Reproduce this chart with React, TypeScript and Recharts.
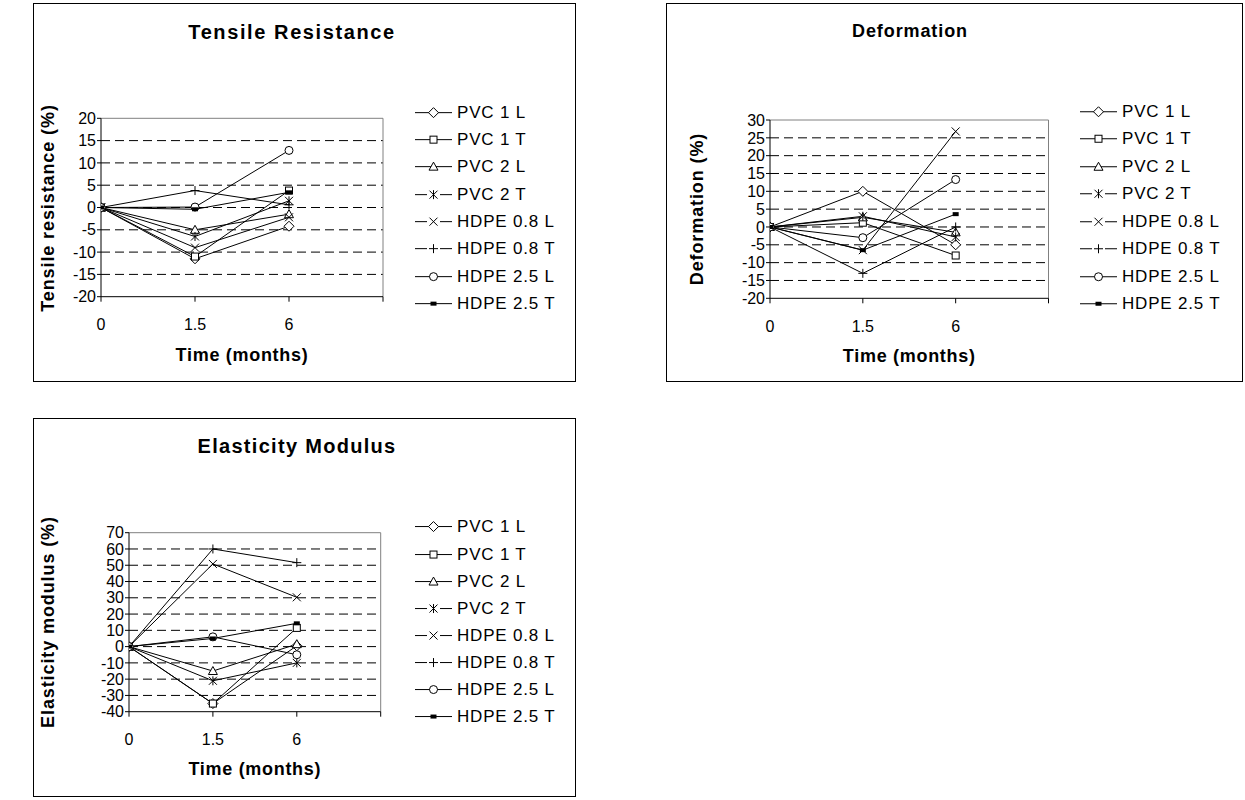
import React from 'react';
import { LineChart, Line, XAxis, YAxis, CartesianGrid, ReferenceLine, Legend } from 'recharts';

const FONT = '"Liberation Sans", Arial, Helvetica, sans-serif';

// Categories (x axis) – the 4th slot is an empty category
const months = ['0', '1.5', '6'];
const xSlots = [0, 1, 2, 3];

// Series names and their marker shapes
const seriesNames = ['PVC 1 L', 'PVC 1 T', 'PVC 2 L', 'PVC 2 T', 'HDPE 0.8 L', 'HDPE 0.8 T', 'HDPE 2.5 L', 'HDPE 2.5 T'];
const markerShapes = ['diamond', 'square', 'triangle', 'star', 'cross', 'plus', 'circle', 'bar'];

// Tensile resistance (%) at 0, 1.5, 6 months, one row per series
const tensileValues = [
  [0, -11.5, -4.2],
  [0, -11, 3.8],
  [0, -5, -1.5],
  [0, -6.5, 1.5],
  [0, -9, -2.2],
  [0, 3.8, 0.6],
  [0, 0.1, 12.8],
  [0, -0.4, 3.4],
];
const tensileTicks = [-20, -15, -10, -5, 0, 5, 10, 15, 20];

// Deformation (%)
const deformationValues = [
  [0, 10, -5],
  [0, 1.2, -8],
  [0, 2.7, -1.5],
  [0, 3, -2.8],
  [0, -6.5, 26.8],
  [0, -13, 0],
  [0, -3, 13.3],
  [0, -6.5, 3.6],
];
const deformationTicks = [-20, -15, -10, -5, 0, 5, 10, 15, 20, 25, 30];

// Elasticity modulus (%)
const elasticityValues = [
  [0, -35, 0.5],
  [0, -35, 11.5],
  [0, -15, 1.5],
  [0, -21, -10],
  [0, 50.8, 30.3],
  [0, 60, 51.6],
  [0, 6, -5],
  [0, 5, 14.3],
];
const elasticityTicks = [-40, -30, -20, -10, 0, 10, 20, 30, 40, 50, 60, 70];

function buildRows(values: number[][]) {
  return months.map((_, i) => {
    const row: Record<string, number> = { x: i };
    seriesNames.forEach((n, s) => {
      row[n] = values[s][i];
    });
    return row;
  });
}

function Marker({ shape, cx, cy }: { shape: string; cx: number; cy: number }) {
  const st = { stroke: '#000', strokeWidth: 1 };
  switch (shape) {
    case 'diamond':
      return <polygon points={`${cx},${cy - 5} ${cx + 5},${cy} ${cx},${cy + 5} ${cx - 5},${cy}`} fill="#fff" {...st} />;
    case 'square':
      return <rect x={cx - 3.5} y={cy - 3.5} width={7} height={7} fill="#fff" {...st} />;
    case 'triangle':
      return <polygon points={`${cx},${cy - 4.5} ${cx + 4.5},${cy + 3.5} ${cx - 4.5},${cy + 3.5}`} fill="#fff" {...st} />;
    case 'star':
      return (
        <g {...st}>
          <line x1={cx - 4} y1={cy - 4} x2={cx + 4} y2={cy + 4} />
          <line x1={cx - 4} y1={cy + 4} x2={cx + 4} y2={cy - 4} />
          <line x1={cx} y1={cy - 4.5} x2={cx} y2={cy + 4.5} />
        </g>
      );
    case 'cross':
      return (
        <g {...st}>
          <line x1={cx - 4} y1={cy - 4} x2={cx + 4} y2={cy + 4} />
          <line x1={cx - 4} y1={cy + 4} x2={cx + 4} y2={cy - 4} />
        </g>
      );
    case 'plus':
      return (
        <g {...st}>
          <line x1={cx - 4.5} y1={cy} x2={cx + 4.5} y2={cy} />
          <line x1={cx} y1={cy - 4.5} x2={cx} y2={cy + 4.5} />
        </g>
      );
    case 'circle':
      return <circle cx={cx} cy={cy} r={4} fill="#fff" {...st} />;
    case 'bar':
    default:
      return <rect x={cx - 3} y={cy - 2} width={6} height={4} fill="#000" />;
  }
}

function LegendContent({ step, font }: { step: number; font: number }) {
  return (
    <div style={{ fontFamily: FONT }}>
      {seriesNames.map((n, i) => {
        const shape = markerShapes[i];
        const h = step;
        const m = h / 2;
        const broken = shape === 'star' || shape === 'cross' || shape === 'plus';
        return (
          <div key={n} style={{ height: h, display: 'flex', alignItems: 'center' }}>
            <svg width={42} height={h} style={{ display: 'block', flex: '0 0 auto' }}>
              {broken ? (
                <g stroke="#000" strokeWidth={1}>
                  <line x1={0} y1={m} x2={12} y2={m} />
                  <line x1={25} y1={m} x2={37} y2={m} />
                </g>
              ) : (
                <line x1={0} y1={m} x2={37} y2={m} stroke="#000" strokeWidth={1} />
              )}
              <Marker shape={shape} cx={18.5} cy={m} />
            </svg>
            <span style={{ fontSize: font, letterSpacing: 0.8, whiteSpace: 'nowrap', lineHeight: `${h}px`, color: '#000' }}>{n}</span>
          </div>
        );
      })}
    </div>
  );
}

type Cfg = {
  box: { left: number; top: number; w: number; h: number };
  plot: { left: number; top: number; right: number; bottom: number };
  yDomain: [number, number];
  yTicks: number[];
  values: number[][];
  title: string;
  titleX: number;
  titleY: number;
  titleSize: number;
  titleSpacing: number;
  yTitle: string;
  yTitleX: number;
  xTitleY: number;
  legendX: number;
  legendY0: number;
  legendStep: number;
};

const XH = 30;

function Panel({ cfg }: { cfg: Cfg }) {
  const { box, plot } = cfg;
  const rows = buildRows(cfg.values);
  const margin = {
    top: plot.top - box.top,
    left: 0,
    right: box.left + box.w - plot.right,
    bottom: box.top + box.h - plot.bottom - XH,
  };
  const yW = plot.left - box.left;
  const textBase: React.CSSProperties = {
    position: 'absolute',
    fontFamily: FONT,
    fontWeight: 'bold',
    color: '#000',
    whiteSpace: 'nowrap',
  };
  const plotMidX = (plot.left + plot.right) / 2;
  const plotMidY = (plot.top + plot.bottom) / 2;
  return (
    <>
      <div style={{ position: 'absolute', left: box.left, top: box.top, width: box.w, height: box.h }}>
        <LineChart width={box.w} height={box.h} data={rows} margin={margin}>
          <CartesianGrid vertical={false} stroke="#000" strokeDasharray="9 5" horizontalValues={cfg.yTicks.slice(1, -1)} />
          <ReferenceLine y={cfg.yDomain[1]} stroke="#808080" strokeWidth={1} ifOverflow="visible" />
          <ReferenceLine x={3} stroke="#808080" strokeWidth={1} ifOverflow="visible" />
          <XAxis
            dataKey="x"
            type="number"
            domain={[0, 3]}
            ticks={xSlots}
            tickFormatter={(v: number) => months[v] ?? ''}
            height={XH}
            axisLine={{ stroke: '#000' }}
            tickLine={{ stroke: '#000' }}
            tickSize={5}
            tickMargin={17}
            tick={{ fontSize: 16, fill: '#000', fontFamily: FONT }}
            interval={0}
            allowDataOverflow
          />
          <YAxis
            type="number"
            domain={cfg.yDomain}
            ticks={cfg.yTicks}
            width={yW}
            axisLine={{ stroke: '#000' }}
            tickLine={{ stroke: '#000' }}
            tickSize={4}
            tickMargin={1}
            tick={{ fontSize: 16, fill: '#000', fontFamily: FONT }}
            interval={0}
            allowDataOverflow
          />
          <Legend
            layout="vertical"
            align="center"
            verticalAlign="middle"
            wrapperStyle={{ left: cfg.legendX - box.left, top: cfg.legendY0 - box.top - cfg.legendStep / 2, width: 170 }}
            content={() => <LegendContent step={cfg.legendStep} font={17} />}
          />
          {seriesNames.map((n, s) => (
            <Line
              key={n}
              type="linear"
              dataKey={n}
              name={n}
              stroke="#000"
              strokeWidth={1}
              isAnimationActive={false}
              activeDot={false}
              dot={(p: any) => (
                <g key={`${n}-${p.index}`}>
                  <Marker shape={markerShapes[s]} cx={p.cx} cy={p.cy} />
                </g>
              )}
            />
          ))}
        </LineChart>
      </div>
      <div
        style={{
          position: 'absolute',
          left: box.left,
          top: box.top,
          width: box.w,
          height: box.h,
          border: '1px solid #000',
          boxSizing: 'border-box',
          pointerEvents: 'none',
        }}
      />
      <div
        style={{
          ...textBase,
          left: cfg.titleX,
          top: cfg.titleY,
          fontSize: cfg.titleSize,
          letterSpacing: cfg.titleSpacing,
          transform: 'translate(-50%, -50%)',
        }}
      >
        {cfg.title}
      </div>
      <div
        style={{
          ...textBase,
          left: cfg.yTitleX,
          top: plotMidY,
          fontSize: 18,
          letterSpacing: 0.9,
          transform: 'translate(-50%, -50%) rotate(-90deg)',
        }}
      >
        {cfg.yTitle}
      </div>
      <div
        style={{
          ...textBase,
          left: plotMidX,
          top: cfg.xTitleY,
          fontSize: 18,
          letterSpacing: 0.7,
          transform: 'translate(-50%, -50%)',
        }}
      >
        Time (months)
      </div>
    </>
  );
}

const tensileCfg: Cfg = {
  box: { left: 33, top: 3, w: 543, h: 379 },
  plot: { left: 101, top: 118.3, right: 383, bottom: 296.7 },
  yDomain: [-20, 20],
  yTicks: tensileTicks,
  values: tensileValues,
  title: 'Tensile Resistance',
  titleX: 292,
  titleY: 32,
  titleSize: 20,
  titleSpacing: 1.6,
  yTitle: 'Tensile resistance (%)',
  yTitleX: 48,
  xTitleY: 355,
  legendX: 415,
  legendY0: 112.5,
  legendStep: 27.3,
};

const deformationCfg: Cfg = {
  box: { left: 666, top: 3, w: 577, h: 379 },
  plot: { left: 770, top: 120, right: 1048.5, bottom: 298.3 },
  yDomain: [-20, 30],
  yTicks: deformationTicks,
  values: deformationValues,
  title: 'Deformation',
  titleX: 910,
  titleY: 31,
  titleSize: 18,
  titleSpacing: 0.9,
  yTitle: 'Deformation (%)',
  yTitleX: 697,
  xTitleY: 356,
  legendX: 1080,
  legendY0: 111.5,
  legendStep: 27.5,
};

const elasticityCfg: Cfg = {
  box: { left: 33, top: 418, w: 543, h: 379 },
  plot: { left: 129, top: 532.7, right: 380.7, bottom: 711.7 },
  yDomain: [-40, 70],
  yTicks: elasticityTicks,
  values: elasticityValues,
  title: 'Elasticity Modulus',
  titleX: 297,
  titleY: 446,
  titleSize: 20,
  titleSpacing: 1.3,
  yTitle: 'Elasticity modulus (%)',
  yTitleX: 48,
  xTitleY: 769,
  legendX: 415,
  legendY0: 527,
  legendStep: 27.1,
};

export default function App() {
  return (
    <div style={{ position: 'absolute', left: 0, top: 0, width: 1245, height: 800, background: '#fff', overflow: 'hidden' }}>
      <Panel cfg={tensileCfg} />
      <Panel cfg={deformationCfg} />
      <Panel cfg={elasticityCfg} />
    </div>
  );
}
